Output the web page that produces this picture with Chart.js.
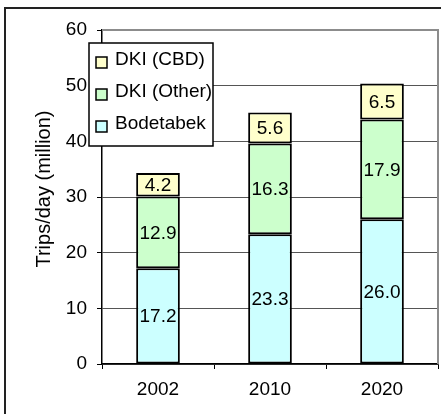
<!DOCTYPE html>
<html>
<head>
<meta charset="utf-8">
<title>Trips per day</title>
<script src="https://cdn.jsdelivr.net/npm/chart.js@4"></script>
<style>
    html, body { margin: 0; padding: 0; background: #fff; }
    .frame { position: relative; width: 441px; height: 414px; overflow: hidden; }
    .frame::before {
        content: '';
        position: absolute;
        left: 4px;
        top: 7px;
        width: 600px;
        height: 600px;
        border-left: 2px solid #222;
        border-top: 2px solid #222;
    }
    #trips_chart { position: absolute; left: 0; top: 0; }
</style>
</head>
<body>
<div class="frame">
    <canvas id="trips_chart" width="441" height="414"></canvas>
</div>
<script>
const years = ['2002', '2010', '2020']
const bodetabek = [17.2, 23.3, 26.0]
const dkiOther = [12.9, 16.3, 17.9]
const dkiCbd = [4.2, 5.6, 6.5]
const yTicks = [0, 10, 20, 30, 40, 50, 60]
const yTitle = 'Trips/day (million)'

const FONT = 'Arial, "Liberation Sans", sans-serif'

document.addEventListener('DOMContentLoaded', () => {
    const chartCanvas = document.querySelector('#trips_chart')
    if (!chartCanvas) {
        console.warn('Trips chart canvas not found.')
        return
    }

    // grey frame round the plot area
    const plotFrame = {
        id: 'plotFrame',
        beforeDatasetsDraw(chart) {
            const { ctx, chartArea: a } = chart
            ctx.save()
            ctx.strokeStyle = '#8c8c8c'
            ctx.lineWidth = 2
            ctx.beginPath()
            ctx.moveTo(a.left, a.top)
            ctx.lineTo(a.right, a.top)
            ctx.lineTo(a.right, a.bottom)
            ctx.stroke()
            ctx.restore()
        }
    }

    // rotated axis title, sits a little above the plot's middle
    const sideTitle = {
        id: 'sideTitle',
        afterDraw(chart) {
            const { ctx } = chart
            ctx.save()
            ctx.translate(44, 189)
            ctx.rotate(-Math.PI / 2)
            ctx.fillStyle = '#000'
            ctx.font = '20px ' + FONT
            ctx.textAlign = 'center'
            ctx.textBaseline = 'middle'
            ctx.fillText(yTitle, 0, 0)
            ctx.restore()
        }
    }

    // value written in the middle of each segment
    const segmentLabels = {
        id: 'segmentLabels',
        afterDatasetsDraw(chart) {
            const { ctx } = chart
            ctx.save()
            ctx.fillStyle = '#000'
            ctx.font = '19px ' + FONT
            ctx.textAlign = 'center'
            ctx.textBaseline = 'middle'
            chart.data.datasets.forEach((ds, i) => {
                chart.getDatasetMeta(i).data.forEach((bar, j) => {
                    const p = bar.getCenterPoint()
                    ctx.fillText(ds.data[j].toFixed(1), p.x, p.y + 1)
                })
            })
            ctx.restore()
        }
    }

    // boxed legend sitting inside the plot, top series first
    const boxLegend = {
        id: 'boxLegend',
        afterDraw(chart) {
            const { ctx } = chart
            const box = { x: 89, y: 43, w: 124, h: 103 }
            ctx.save()
            ctx.fillStyle = '#fff'
            ctx.fillRect(box.x, box.y, box.w, box.h)
            ctx.strokeStyle = '#000'
            ctx.lineWidth = 1.5
            ctx.strokeRect(box.x, box.y, box.w, box.h)
            ctx.font = '19px ' + FONT
            ctx.textBaseline = 'middle'
            const items = chart.data.datasets.slice().reverse()
            items.forEach((ds, i) => {
                const cy = box.y + 17 + i * 32
                ctx.fillStyle = ds.backgroundColor
                ctx.fillRect(box.x + 7, cy - 3, 11, 11)
                ctx.strokeStyle = '#000'
                ctx.lineWidth = 1.5
                ctx.strokeRect(box.x + 7, cy - 3, 11, 11)
                ctx.fillStyle = '#000'
                ctx.fillText(ds.label, box.x + 26, cy)
            })
            ctx.restore()
        }
    }

    new Chart(chartCanvas.getContext('2d'), {
        type: 'bar',
        data: {
            labels: years,
            datasets: [
                {
                    label: 'Bodetabek',
                    data: bodetabek,
                    backgroundColor: '#ccffff',
                    borderColor: '#000',
                    borderWidth: 2,
                    borderSkipped: false
                },
                {
                    label: 'DKI (Other)',
                    data: dkiOther,
                    backgroundColor: '#ccffcc',
                    borderColor: '#000',
                    borderWidth: 2,
                    borderSkipped: false
                },
                {
                    label: 'DKI (CBD)',
                    data: dkiCbd,
                    backgroundColor: '#ffffcc',
                    borderColor: '#000',
                    borderWidth: 2,
                    borderSkipped: false
                }
            ]
        },
        options: {
            responsive: false,
            animation: false,
            barPercentage: 0.39,
            categoryPercentage: 1,
            plugins: {
                legend: { display: false },
                title: { display: false },
                tooltip: { enabled: false }
            },
            scales: {
                x: {
                    stacked: true,
                    ticks: {
                        color: '#000',
                        font: { family: FONT, size: 19 },
                        padding: 9
                    },
                    grid: {
                        offset: true,
                        drawOnChartArea: false,
                        drawTicks: true,
                        tickLength: 5,
                        tickColor: '#000',
                        tickWidth: 1
                    },
                    border: { color: '#000', width: 1.5 },
                    afterFit: (scale) => { scale.height = 50 }
                },
                y: {
                    stacked: true,
                    min: 0,
                    max: 60,
                    afterBuildTicks: (scale) => {
                        scale.ticks = yTicks.map(v => ({ value: v }))
                    },
                    ticks: {
                        color: '#000',
                        font: { family: FONT, size: 19 },
                        padding: 10
                    },
                    grid: {
                        color: (c) => c.tick && c.tick.value === 60 ? 'rgba(0,0,0,0)' : '#555',
                        lineWidth: 1,
                        drawTicks: true,
                        tickLength: 5,
                        tickColor: '#000',
                        tickWidth: 1
                    },
                    border: { color: '#000', width: 1.5 },
                    afterFit: (scale) => { scale.width = 102 }
                }
            },
            layout: {
                padding: { left: 0, right: 3, top: 30, bottom: 0 }
            }
        },
        plugins: [plotFrame, segmentLabels, boxLegend, sideTitle]
    })
})
</script>
</body>
</html>
